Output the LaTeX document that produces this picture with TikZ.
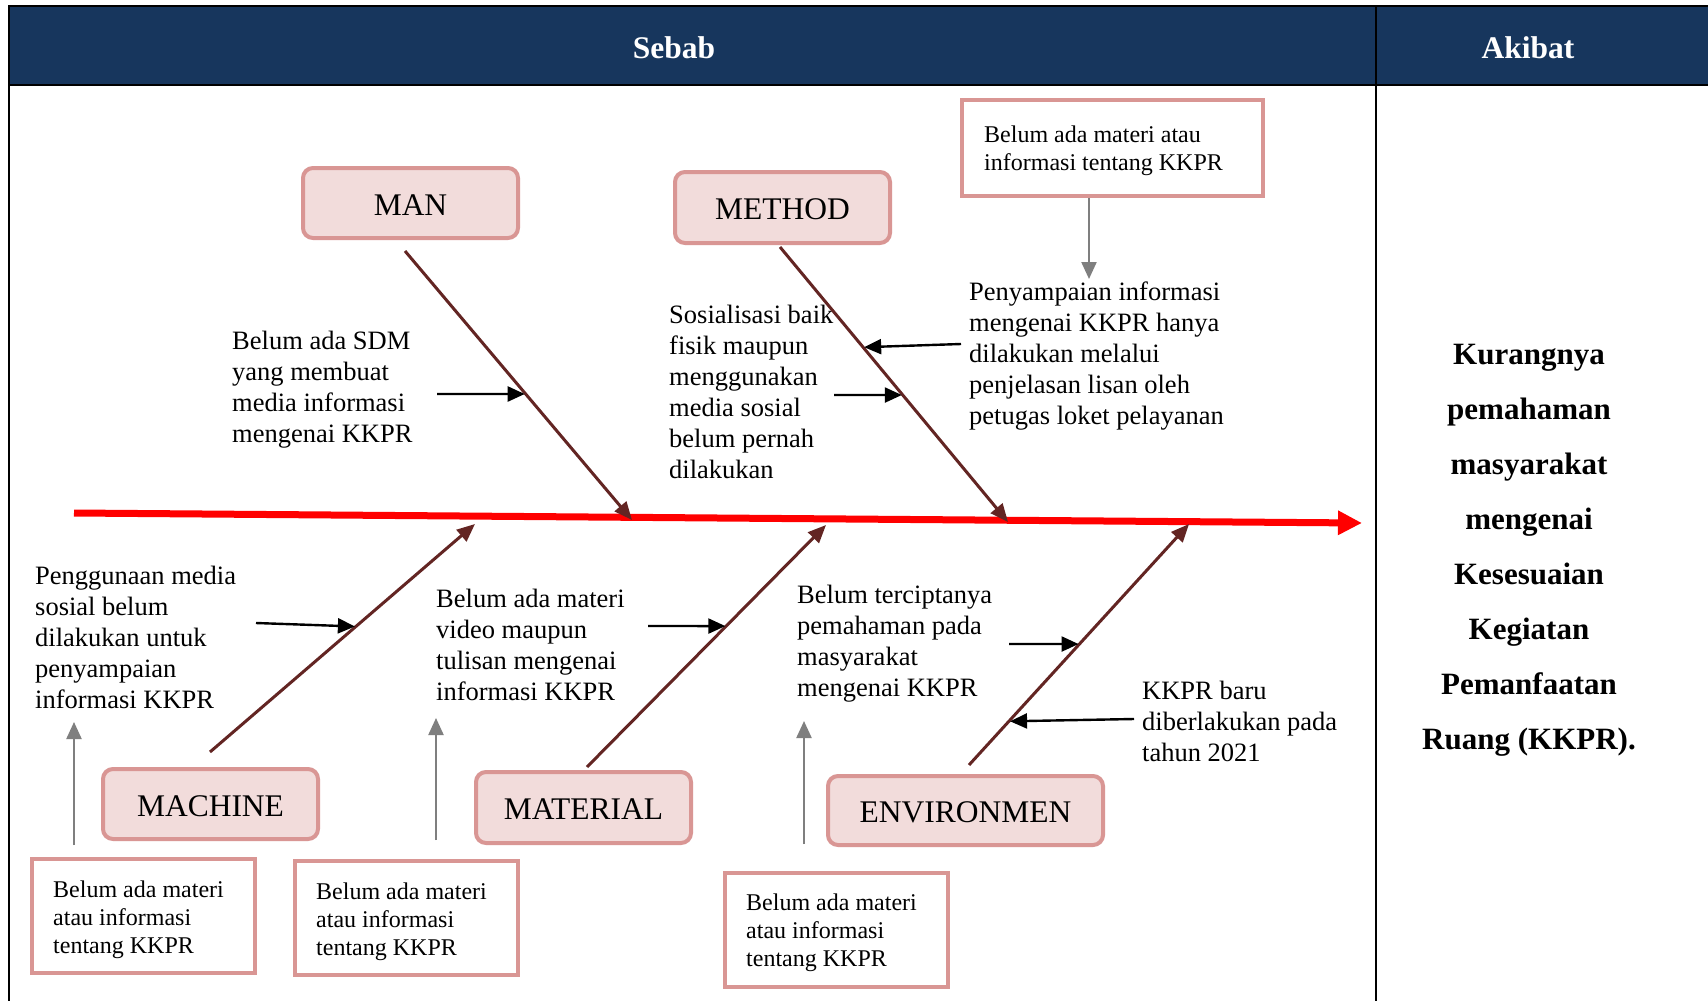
\documentclass[tikz,border=0pt]{standalone}
\usepackage{fontspec}
\setmainfont{Liberation Serif}
\usetikzlibrary{arrows.meta}
\definecolor{hdrblue}{HTML}{17365D}
\definecolor{catline}{HTML}{D99694}
\definecolor{catfill}{HTML}{F2DCDB}
\definecolor{bonecol}{HTML}{632523}
\definecolor{grayarr}{HTML}{7F7F7F}
\definecolor{spinered}{HTML}{FF0000}
\begin{document}
\begin{tikzpicture}[x=1pt,y=-1pt,
  catbox/.style={draw=catline, fill=catfill, line width=4pt, rounded corners=10pt,
    inner sep=0pt, text height=24pt, text depth=0pt, font=\fontsize{31.5}{36}\selectfont},
  causeframe/.style={draw=catline, fill=white, line width=4pt, inner sep=0pt},
  boxtext/.style={anchor=north west, inner sep=0pt, align=left,
    font=\fontsize{24}{28}\selectfont},
  causetext/.style={anchor=north west, inner sep=0pt, align=left,
    font=\fontsize{26.5}{31}\selectfont},
  bonearrow/.style={draw=bonecol, line width=3pt, -{Triangle[length=18pt,width=15pt]}},
  blackarrow/.style={draw=black, line width=2.4pt, -{Triangle[length=17pt,width=15pt]}, shorten >=1pt},
  grayarrow/.style={draw=grayarr, line width=2.2pt, -{Triangle[length=17pt,width=15pt]}},
  spinearrow/.style={draw=spinered, line width=7pt, -{Triangle[length=24pt,width=23pt]}},
  tableline/.style={draw=black, line width=2.2pt},
  hdrtext/.style={text=white, inner sep=0pt, font=\bfseries\fontsize{31.5}{36}\selectfont}
]
\fill[white] (0,0) rectangle (1708,1001);
\useasboundingbox (0,0) rectangle (1708,1001);

% header
\fill[hdrblue] (9,6) rectangle (1708,85);
\draw[tableline] (8,6) -- (1708,6);
\draw[tableline] (8,85) -- (1708,85);
\draw[tableline] (9,5) -- (9,1001);
\draw[tableline] (1376,5) -- (1376,1001);
\node[hdrtext] (sebab) at (674,48) {Sebab};
\node[hdrtext] (akibat) at (1528,48) {Akibat};

% effect
\node[anchor=north, align=center, inner sep=0pt, font=\bfseries\fontsize{31}{55}\selectfont] (effect) at (1529,344)
  {Kurangnya\\pemahaman\\masyarakat\\mengenai\\Kesesuaian\\Kegiatan\\Pemanfaatan\\Ruang (KKPR).};

% category boxes
\node[catbox, minimum width=215pt, minimum height=70pt] (man) at (410.5,203) {MAN};
\node[catbox, minimum width=215pt, minimum height=71pt] (method) at (782.5,207.5) {METHOD};
\node[catbox, minimum width=215pt, minimum height=70pt] (machine) at (210.5,804) {MACHINE};
\node[catbox, minimum width=215pt, minimum height=71pt] (material) at (583.5,807.5) {MATERIAL};
\node[catbox, minimum width=275pt, minimum height=69pt] (environ) at (965.5,810.5) {ENVIRONMEN};

% root-cause boxes
\node[causeframe, minimum width=301pt, minimum height=96pt] (rootA) at (1112.5,147.5) {};
\node[boxtext] (rootAt) at (984,126) {Belum ada materi atau\\informasi tentang KKPR};
\node[causeframe, minimum width=223pt, minimum height=114pt] (rootB) at (143.5,916) {};
\node[boxtext] (rootBt) at (53,881) {Belum ada materi\\atau informasi\\tentang KKPR};
\node[causeframe, minimum width=223pt, minimum height=114pt] (rootC) at (406.5,918) {};
\node[boxtext] (rootCt) at (316,883) {Belum ada materi\\atau informasi\\tentang KKPR};
\node[causeframe, minimum width=223pt, minimum height=114pt] (rootD) at (836.5,929.5) {};
\node[boxtext] (rootDt) at (746,894) {Belum ada materi\\atau informasi\\tentang KKPR};

% cause texts
\node[causetext] (tman) at (232,331) {Belum ada SDM\\yang membuat\\media informasi\\mengenai KKPR};
\node[causetext] (tmeth) at (669,305) {Sosialisasi baik\\fisik maupun\\menggunakan\\media sosial\\belum pernah\\dilakukan};
\node[causetext] (tpeny) at (969,282) {Penyampaian informasi\\mengenai KKPR hanya\\dilakukan melalui\\penjelasan lisan oleh\\petugas loket pelayanan};
\node[causetext] (tmach) at (35,566) {Penggunaan media\\sosial belum\\dilakukan untuk\\penyampaian\\informasi KKPR};
\node[causetext] (tmat) at (436,589) {Belum ada materi\\video maupun\\tulisan mengenai\\informasi KKPR};
\node[causetext] (tenv) at (797,585) {Belum terciptanya\\pemahaman pada\\masyarakat\\mengenai KKPR};
\node[causetext] (tkkpr) at (1142,681) {KKPR baru\\diberlakukan pada\\tahun 2021};

% spine
\coordinate (spineL) at (74,513);
\coordinate (spineR) at (1362,523);
\draw[spinearrow] (spineL) -- (spineR);

% bones
\coordinate (manS) at (405,251);   \coordinate (manE) at (632,520);
\coordinate (methS) at (780,247);  \coordinate (methE) at (1008,522);
\coordinate (machS) at (210,752);  \coordinate (machE) at (475,524);
\coordinate (matS) at (587,767);   \coordinate (matE) at (826,525);
\coordinate (envS) at (969,765);   \coordinate (envE) at (1189,524);
\draw[bonearrow] (manS) -- (manE);
\draw[bonearrow] (methS) -- (methE);
\draw[bonearrow] (machS) -- (machE);
\draw[bonearrow] (matS) -- (matE);
\draw[bonearrow] (envS) -- (envE);

% cause arrows
\coordinate (a1s) at (437,394);  \coordinate (a1d) at (517,394);
\coordinate (a2s) at (834,395);  \coordinate (a2d) at (897,395);
\coordinate (a3s) at (961,344);  \coordinate (a3d) at (869,347);
\coordinate (a4s) at (256,623);  \coordinate (a4d) at (342,626);
\coordinate (a5s) at (648,626);  \coordinate (a5d) at (717,626);
\coordinate (a6s) at (1009,644); \coordinate (a6d) at (1068,644);
\coordinate (a7s) at (1134,719); \coordinate (a7d) at (1022,721);
\draw[blackarrow] (a1s) -- (intersection of manS--manE and a1s--a1d);
\draw[blackarrow] (a2s) -- (intersection of methS--methE and a2s--a2d);
\draw[blackarrow] (a3s) -- (intersection of methS--methE and a3s--a3d);
\draw[blackarrow] (a4s) -- (intersection of machS--machE and a4s--a4d);
\draw[blackarrow] (a5s) -- (intersection of matS--matE and a5s--a5d);
\draw[blackarrow] (a6s) -- (intersection of envS--envE and a6s--a6d);
\draw[blackarrow] (a7s) -- (intersection of envS--envE and a7s--a7d);

% gray arrows
\coordinate (g0e) at (1089,279);
\coordinate (g1s) at (74,845);  \coordinate (g1e) at (74,722);
\coordinate (g2s) at (436,840); \coordinate (g2e) at (436,718);
\coordinate (g3s) at (804,844); \coordinate (g3e) at (804,721);
\draw[grayarrow] (rootA.south -| g0e) -- (g0e);
\draw[grayarrow] (g1s) -- (g1e);
\draw[grayarrow] (g2s) -- (g2e);
\draw[grayarrow] (g3s) -- (g3e);
\end{tikzpicture}
\end{document}
